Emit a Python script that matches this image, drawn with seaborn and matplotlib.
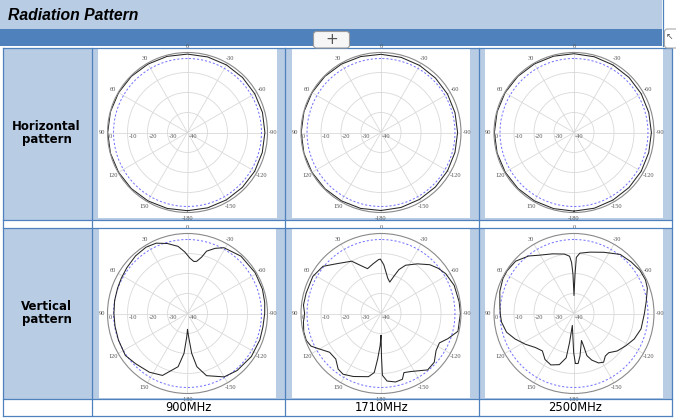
import numpy as np
import pandas as pd
import matplotlib
matplotlib.use("Agg")
import matplotlib.pyplot as plt
import seaborn as sns
from matplotlib.patches import Rectangle, FancyBboxPatch
from matplotlib.lines import Line2D
from matplotlib.transforms import IdentityTransform

# ---- data: angle in degrees (0 = up, counter-clockwise), gain in dB ----
freqs = ["900MHz", "1710MHz", "2500MHz"]
row_names = ["Horizontal\npattern", "Vertical\npattern"]

h_deg = [-180, -165, -150, -135, -120, -105, -90, -75, -60, -45, -30, -15, 0,
         15, 30, 45, 60, 75, 90, 105, 120, 135, 150, 165, 180]
h900_db = [-0.9, -1.0, -1.1, -1.2, -1.2, -1.3, -1.3, -1.2, -1.2, -1.1, -1.0, -0.9, -0.8,
           -0.6, -0.5, -0.3, -0.2, -0.1, -0.1, -0.1, -0.2, -0.3, -0.5, -0.7, -0.9]
h1710_db = [-1.0, -1.2, -1.4, -1.5, -1.6, -1.7, -1.7, -1.7, -1.6, -1.5, -1.3, -1.1, -0.9,
            -0.7, -0.5, -0.3, -0.15, -0.1, -0.1, -0.1, -0.15, -0.3, -0.5, -0.7, -1.0]
h2500_db = [-0.7, -0.8, -1.0, -1.1, -1.2, -1.3, -1.3, -1.3, -1.2, -1.1, -1.0, -0.8, -0.6,
            -0.5, -0.4, -0.3, -0.2, -0.2, -0.2, -0.2, -0.3, -0.4, -0.5, -0.6, -0.7]

v900_deg = [-180, -177, -174, -170, -163, -150, -139, -124, -110, -100, -90, -82, -72,
            -59, -43, -29, -23, -17, -14, -10, -7, -2.5, 2.5, 8, 16, 24, 32, 42, 53, 62,
            70, 80, 90, 100, 111, 124, 134, 147, 158, 170, 175, 178, 180]
v900_db = [-32, -28, -20, -13, -7.5, -3.4, -2.2, -1.5, -1.5, -1.7, -1.4, -1.0, -0.6,
           -0.5, -0.8, -2.4, -4.6, -7.4, -11, -13.5, -13.8, -12.3, -9.2, -6.1, -3.6, -1.5,
           -0.9, -1.2, -2.0, -2.5, -2.8, -3.0, -3.2, -3.2, -3.0, -2.5, -3.9, -5.0, -6.6,
           -13, -20, -28, -32]

v1710_deg = [-180, -179.3, -178.7, -174.9, -168, -162, -158.8, -152.9, -140.4, -132.5,
             -124, -116.7, -110.7, -103, -90, -81.5, -69, -58.4, -51.8, -45, -36.3, -27,
             -22.2, -19, -15.6, -10.8, -3.2, 0.7, 2.5, 9.3, 16.7, 23.4, 29.3, 41.9, 50.9,
             61.5, 74.9, 83.8, 90, 96.2, 103.4, 109.8, 115, 120, 127, 135.2, 142.4, 148,
             156.3, 168.8, 173.5, 175.8, 178.5, 180]
v1710_db = [-29, -18, -9.1, -6.1, -5.0, -5.4, -8.3, -7.4, -3.4, -3.9,
            -6.8, -7.3, -4.3, -0.5, -0.3, -0.5, -0.8, -2.0, -3.5, -5.5, -9.2, -12.9,
            -16.3, -20.4, -23.7, -22.0, -15.5, -12.8, -13.0, -14.9, -16.6, -13.7, -10, -6.6, -2.6,
            -1.2, -1.2, -1.0, -1.8, -1.0, -0.3, -0.3, -1.4, -4.5, -7.8, -7.9, -4.9, -4.2,
            -5.6, -7.8, -10.3, -17.2, -24, -29]

v2500_deg = [-178.4, -175.3, -172, -164.5, -163.5, -163, -159.2, -153.6, -148.7, -143.6,
             -138.4, -130.9, -122, -113, -102.9, -90, -80.6, -71, -64.7, -56.9, -47.9, -38,
             -25.8, -14.6, -5.5, -2.4, -1.5, 0, 1.5, 2.7, 4.4, 9.1, 19.8, 31, 38.2, 48.1,
             57.4, 63.9, 73.4, 83.5, 90, 96.7, 105.5, 113.4, 122.2, 131.5, 139.8, 147.8,
             155.8, 164, 170, 171.3, 172, 179.5, 181.6]
v2500_db = [-15, -14.9, -18.5, -26, -23, -18, -15.1, -12.4, -11.5, -13.6,
            -13.8, -11.4, -9.5, -7.3, -5.6, -4.8, -3.4, -1.2, -0.5, -0.6, -1.5, -2.5,
            -6, -8.3, -9.7, -11.9, -20.4, -31, -20.4, -14.5, -11.3, -9.9, -8.3, -6.0, -3.4, -0.8,
            -0.3, -0.4, -1.3, -2.7, -3.1, -3.5, -5.0, -7.9, -11.2, -14.3, -15.5, -12.8,
            -11.8, -13.4, -17.5, -25.4, -34, -20.4, -15]

ref_db = -3  # dashed reference circle
r_ticks = [-40, -30, -20, -10, 0]
angle_ticks = [0, 30, 60, 90, 120, 150, 180, -150, -120, -90, -60, -30]
angle_labels = ["0", "30", "60", "90", "120", "150", "-180", "-150", "-120", "-90", "-60", "-30"]

panels = [
    [(h_deg, h900_db), (h_deg, h1710_db), (h_deg, h2500_db)],
    [(v900_deg, v900_db), (v1710_deg, v1710_db), (v2500_deg, v2500_db)],
]

# ---- layout (pixels of a 676x420 picture) ----
W, H = 676, 420
LIGHT = "#B8CCE4"
DARK = "#4F81BD"

fig = plt.figure(figsize=(W / 100, H / 100), dpi=100)
fig.patch.set_facecolor("white")


def fx(x):
    return x / W


def fy(y):
    return 1 - y / H


def box(x0, y0, x1, y1, color, z=-2):
    fig.add_artist(Rectangle((fx(x0), fy(y1)), fx(x1) - fx(x0), fy(y0) - fy(y1),
                             transform=fig.transFigure, facecolor=color,
                             edgecolor="none", zorder=z))


def rule(xs, ys, color=DARK, lw=0.9):
    fig.add_artist(Line2D([fx(x) for x in xs], [fy(y) for y in ys],
                          transform=fig.transFigure, color=color, lw=lw, zorder=5))


# header bands
box(0, 0, 662, 29, LIGHT)
box(0, 29, 662, 45.5, DARK)
rule([662.5, 662.5], [0, 45.5])
fig.text(fx(8), fy(20), "Radiation Pattern", fontsize=11.3, fontweight="bold",
         fontstyle="italic", family="Liberation Sans", ha="left", va="baseline")

# little buttons
fig.add_artist(FancyBboxPatch((313.5, H - 48), 36, 16.5,
                              boxstyle="round,pad=0,rounding_size=3",
                              transform=IdentityTransform(), facecolor="#f6f6f6",
                              edgecolor="#9a9a9a", lw=0.8, zorder=6))
fig.text(fx(331.5), fy(39.5), "+", fontsize=11, color="#555555", ha="center",
         va="center", zorder=7)
fig.add_artist(FancyBboxPatch((664.5, H - 48), 20, 19,
                              boxstyle="round,pad=0,rounding_size=3",
                              transform=IdentityTransform(), facecolor="white",
                              edgecolor="#aaaaaa", lw=0.8, zorder=6))
fig.text(fx(669.5), fy(36), "\u2196", fontsize=6.5, color="#555555", ha="center",
         va="center", zorder=7)

# table cells
col_x = [2.5, 91.5, 284.5, 479, 671.5]
row1 = (47.5, 219.5)
row2 = (228, 399)
for (y0, y1) in (row1, row2):
    box(col_x[0], y0, col_x[-1], y1, LIGHT)

img_boxes = [
    [(98, 48, 277, 217.5), (292, 48, 470, 218), (485, 48, 663, 217.5)],
    [(99, 229, 276, 398), (292, 229, 470, 398), (485, 229, 663, 398)],
]
for r in img_boxes:
    for (x0, y0, x1, y1) in r:
        box(x0, y0, x1, y1, "white", z=-1)

for x in col_x:
    rule([x, x], [47.5, 415.5])
for y in (47.5, 219.5, 228, 399, 415.5):
    rule([col_x[0], col_x[-1]], [y, y])

for name, (y0, y1) in zip(row_names, (row1, row2)):
    fig.text(fx(46.5), fy((y0 + y1) / 2 - 0.5), name, fontsize=8.5, fontweight="bold",
             family="DejaVu Sans", ha="center", va="center", linespacing=1.0)

for i, f in enumerate(freqs):
    fig.text(fx((col_x[i + 1] + col_x[i + 2]) / 2), fy(407.5), f, fontsize=8.3,
             family="DejaVu Sans", ha="center", va="center")

# polar charts
R = 80
centers_x = [187.5, 381, 574]
centers_y = [132.5, 313.5]
ref_theta = np.deg2rad(np.arange(0, 361, 2))

for ri, row in enumerate(panels):
    for ci, (deg, db) in enumerate(row):
        cx, cy = centers_x[ci], centers_y[ri]
        ax = fig.add_axes([fx(cx - R), fy(cy + R), 2 * R / W, 2 * R / H],
                          projection="polar")
        ax.set_theta_zero_location("N")
        ax.set_theta_direction(1)
        ax.set_facecolor("white")

        ax.plot(ref_theta, np.full_like(ref_theta, ref_db), color="#6f6fff",
                lw=0.7, ls=(0, (2.2, 2.0)))

        df = pd.DataFrame({"theta": np.deg2rad(deg), "db": db})
        sns.lineplot(data=df, x="theta", y="db", sort=False, estimator=None,
                     ax=ax, color="#262626", lw=0.75)
        ax.set_xlabel("")
        ax.set_ylabel("")

        ax.set_thetalim(0, 2 * np.pi)
        ax.set_ylim(-40, 0)
        ax.set_xticks(np.deg2rad(np.arange(0, 360, 30)))
        ax.set_xticklabels([])
        ax.set_yticks([-30, -20, -10])
        ax.set_yticklabels([])
        ax.tick_params(length=0, pad=0)
        ax.grid(True, color="#d9d9d9", lw=0.6)
        ax.spines["polar"].set_color("#8a8a8a")
        ax.spines["polar"].set_linewidth(0.8)

        for a, lab in zip(angle_ticks, angle_labels):
            ax.text(np.deg2rad(a), 2.9, lab, fontsize=4.6, family="Liberation Serif",
                    color="#555555", ha="center", va="center", clip_on=False)
        for rv in r_ticks:
            ax.annotate(str(rv), xy=(np.pi / 2, rv), xytext=(1, -4),
                        textcoords="offset pixels", fontsize=4.6,
                        family="Liberation Serif", color="#555555",
                        ha="left", va="center", annotation_clip=False)

fig.savefig("out.png", dpi=100)
